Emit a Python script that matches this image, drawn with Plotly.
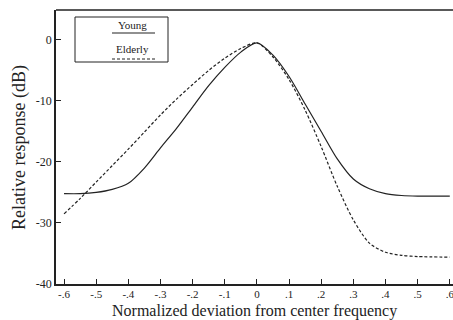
import plotly.graph_objects as go

x_young = [-0.6, -0.55, -0.5, -0.45, -0.4, -0.35, -0.3, -0.25, -0.2, -0.15, -0.1, -0.05, 0.0,
           0.05, 0.1, 0.15, 0.2, 0.25, 0.3, 0.35, 0.4, 0.45, 0.5, 0.6]
y_young = [-25.2, -25.2, -25.0, -24.5, -23.5, -21.0, -17.7, -14.5, -11.0, -7.5, -4.5, -2.0, -0.5,
           -2.5, -6.0, -10.5, -15.0, -19.5, -22.8, -24.4, -25.2, -25.5, -25.6, -25.6]

x_elderly = [-0.6, -0.55, -0.5, -0.45, -0.4, -0.35, -0.3, -0.25, -0.2, -0.15, -0.1, -0.05, 0.0,
             0.05, 0.1, 0.15, 0.2, 0.25, 0.3, 0.35, 0.4, 0.45, 0.5, 0.6]
y_elderly = [-28.5, -26.0, -23.3, -20.6, -17.9, -15.1, -12.3, -9.7, -7.3, -5.0, -3.0, -1.4, -0.5,
             -2.8, -6.5, -11.5, -17.5, -24.0, -29.5, -33.3, -34.8, -35.3, -35.5, -35.6]

x_ticks = [-0.6, -0.5, -0.4, -0.3, -0.2, -0.1, 0.0, 0.1, 0.2, 0.3, 0.4, 0.5, 0.6]
x_ticklabels = ["-.6", "-.5", "-.4", "-.3", "-.2", "-.1", "0", ".1", ".2", ".3", ".4", ".5", ".6"]
y_ticks = [0, -10, -20, -30, -40]
y_ticklabels = ["0", "-10", "-20", "-30", "-40"]

serif = "Liberation Serif"
ink = "#222222"

# plot area: left 56px, top 10px, width 397px, height 274px
def px(x):
    return (x - 56) / 397

def py(y):
    return (284 - y) / 274

fig = go.Figure()
fig.add_trace(go.Scatter(x=x_young, y=y_young, mode="lines", name="Young",
                         line=dict(color=ink, width=1.2, shape="spline", smoothing=0.8)))
fig.add_trace(go.Scatter(x=x_elderly, y=y_elderly, mode="lines", name="Elderly",
                         line=dict(color=ink, width=1.2, dash="3px,2px", shape="spline", smoothing=0.8)))

fig.update_layout(
    width=453, height=320,
    margin=dict(l=56, r=0, t=10, b=36, autoexpand=False),
    paper_bgcolor="white", plot_bgcolor="white",
    showlegend=False,
    font=dict(family=serif, color=ink, size=12),
    xaxis=dict(range=[-0.625, 0.61], tickvals=x_ticks, ticktext=x_ticklabels, automargin=False,
               ticklabeloverflow="allow", ticklabelstandoff=-1,
               showgrid=False, zeroline=False, showline=True, linecolor=ink, linewidth=1.5,
               ticks="inside", ticklen=5, tickcolor=ink, tickfont=dict(size=11, family=serif)),
    yaxis=dict(range=[-40, 4.9], tickvals=y_ticks, ticktext=y_ticklabels, automargin=False,
               showgrid=False, zeroline=False, showline=True, linecolor=ink, linewidth=1.5,
               ticks="inside", ticklen=5, tickcolor=ink, tickfont=dict(size=12, family=serif)),
    shapes=[
        dict(type="line", xref="paper", yref="paper", x0=0, x1=1, y0=1, y1=1,
             line=dict(color=ink, width=1.5)),
        # legend box
        dict(type="rect", xref="paper", yref="paper",
             x0=px(75), x1=px(168), y0=py(62), y1=py(17),
             line=dict(color=ink, width=1)),
        dict(type="line", xref="paper", yref="paper",
             x0=px(112), x1=px(155), y0=py(33), y1=py(33),
             line=dict(color=ink, width=1.2)),
        dict(type="line", xref="paper", yref="paper",
             x0=px(112), x1=px(155), y0=py(59), y1=py(59),
             line=dict(color=ink, width=1.2, dash="3px,2px")),
    ],
    annotations=[
        dict(text="Young", xref="paper", yref="paper", x=px(132), y=py(25),
             showarrow=False, font=dict(size=11, family=serif), xanchor="center", yanchor="middle"),
        dict(text="Elderly", xref="paper", yref="paper", x=px(132), y=py(49),
             showarrow=False, font=dict(size=11, family=serif), xanchor="center", yanchor="middle"),
        dict(text="Normalized deviation from center frequency", xref="paper", yref="paper",
             x=px(254), y=py(311), showarrow=False,
             font=dict(size=16, family=serif), xanchor="center", yanchor="middle"),
        dict(text="Relative response (dB)", xref="paper", yref="paper",
             x=px(20), y=py(148), showarrow=False, textangle=-90,
             font=dict(size=18, family=serif), xanchor="center", yanchor="middle"),
    ],
)

fig.write_html(
    "out.html",
    config={"displayModeBar": False},
    post_script=("document.body.style.margin='0';document.body.style.overflow='hidden';"
                 "document.documentElement.style.overflow='hidden';"),
)
